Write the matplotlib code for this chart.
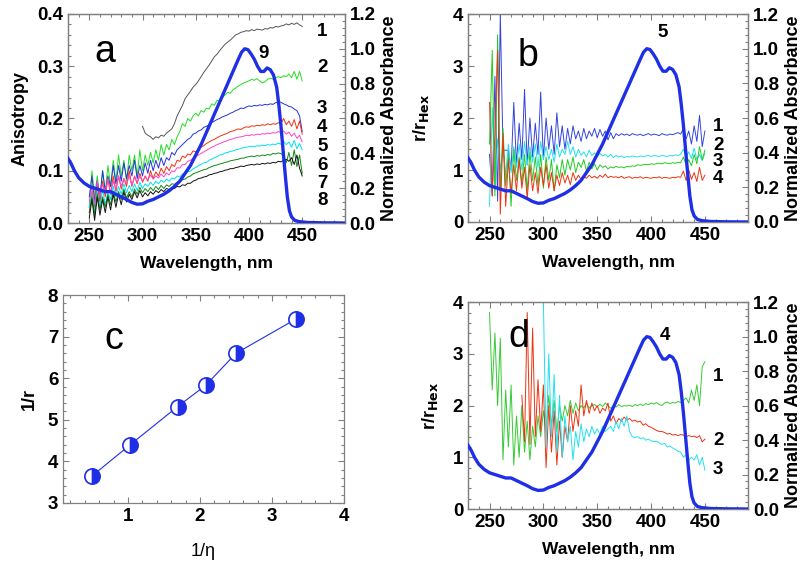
import numpy as np
import matplotlib
matplotlib.use('Agg')
import matplotlib.pyplot as plt
from matplotlib.ticker import MultipleLocator

plt.rcParams['font.family'] = ['Liberation Sans', 'DejaVu Sans']
plt.rcParams['font.weight'] = 'bold'
plt.rcParams['axes.labelweight'] = 'bold'

# normalized absorbance (shared by panels a, b, d)
abs_wl = [230, 233, 236, 240, 245, 250, 255, 260, 265, 270, 275, 280, 285, 290, 295,
          300, 305, 310, 315, 320, 325, 330, 335, 340, 345, 350, 355, 360, 365, 370,
          375, 380, 385, 390, 393, 396, 399, 402, 405, 408, 411, 414, 417, 420, 423,
          426, 428, 430, 432, 434, 436, 438, 440, 443, 447, 455, 470, 490]
abs_val = [0.37, 0.34, 0.30, 0.26, 0.23, 0.21, 0.20, 0.19, 0.18, 0.18, 0.165, 0.15, 0.135, 0.118, 0.108,
           0.11, 0.125, 0.135, 0.15, 0.165, 0.185, 0.21, 0.24, 0.285, 0.33, 0.39, 0.45, 0.52, 0.59, 0.66,
           0.73, 0.80, 0.87, 0.94, 0.98, 1.0, 0.995, 0.97, 0.94, 0.90, 0.87, 0.87, 0.89, 0.88, 0.85,
           0.78, 0.68, 0.56, 0.42, 0.28, 0.15, 0.07, 0.035, 0.015, 0.008, 0.003, 0.001, 0.0]

# panel a: anisotropy, curves 1-8 (curve 1 from 300 nm, others 250-450 nm, 2.5 nm step)
aniso_1 = [0.185, 0.172, 0.168, 0.165, 0.16, 0.165, 0.163, 0.168, 0.166, 0.172,
           0.176, 0.18, 0.19, 0.205, 0.215, 0.225, 0.238, 0.245, 0.252, 0.26,
           0.265, 0.272, 0.28, 0.288, 0.295, 0.302, 0.31, 0.318, 0.323, 0.33,
           0.336, 0.342, 0.346, 0.35, 0.355, 0.36, 0.362, 0.365, 0.366, 0.368,
           0.367, 0.37, 0.368, 0.371, 0.37, 0.369, 0.372, 0.371, 0.374, 0.373,
           0.376, 0.375, 0.377, 0.378, 0.381, 0.379, 0.382, 0.38, 0.383, 0.379,
           0.376]
aniso_2 = [0.03, 0.10, 0.05, 0.09, 0.04, 0.10, 0.06, 0.11, 0.07, 0.12,
           0.08, 0.13, 0.09, 0.12, 0.08, 0.13, 0.10, 0.13, 0.09, 0.14,
           0.10, 0.13, 0.11, 0.135, 0.115, 0.14, 0.12, 0.15, 0.13, 0.15,
           0.14, 0.16, 0.15, 0.165, 0.175, 0.19, 0.185, 0.20, 0.195, 0.205,
           0.21, 0.205, 0.215, 0.212, 0.22, 0.218, 0.228, 0.225, 0.235, 0.232,
           0.24, 0.245, 0.25, 0.248, 0.255, 0.258, 0.262, 0.265, 0.268, 0.27,
           0.272, 0.275, 0.273, 0.276, 0.272, 0.268, 0.27, 0.275, 0.277, 0.275,
           0.278, 0.28, 0.278, 0.282, 0.28, 0.285, 0.278, 0.29, 0.275, 0.29,
           0.272]
aniso_3 = [0.05, 0.09, 0.04, 0.08, 0.05, 0.10, 0.06, 0.09, 0.07, 0.11,
           0.075, 0.11, 0.08, 0.115, 0.085, 0.11, 0.09, 0.12, 0.085, 0.11,
           0.09, 0.115, 0.095, 0.12, 0.10, 0.12, 0.105, 0.125, 0.11, 0.125,
           0.12, 0.135, 0.13, 0.14, 0.145, 0.15, 0.155, 0.16, 0.163, 0.17,
           0.172, 0.176, 0.178, 0.183, 0.185, 0.188, 0.192, 0.195, 0.198, 0.20,
           0.203, 0.205, 0.207, 0.21, 0.212, 0.215, 0.217, 0.22, 0.219, 0.222,
           0.224, 0.223, 0.225, 0.224, 0.226, 0.225, 0.227, 0.226, 0.228, 0.227,
           0.23, 0.232, 0.231, 0.228, 0.226, 0.223, 0.222, 0.218, 0.215, 0.205,
           0.175]
aniso_4 = [0.02, 0.06, 0.03, 0.07, 0.04, 0.08, 0.05, 0.085, 0.055, 0.09,
           0.06, 0.09, 0.065, 0.085, 0.07, 0.10, 0.07, 0.09, 0.075, 0.095,
           0.078, 0.09, 0.08, 0.10, 0.085, 0.098, 0.09, 0.105, 0.095, 0.108,
           0.10, 0.112, 0.108, 0.12, 0.118, 0.128, 0.125, 0.132, 0.13, 0.138,
           0.136, 0.142, 0.145, 0.148, 0.152, 0.155, 0.158, 0.16, 0.163, 0.166,
           0.168, 0.17, 0.172, 0.175, 0.176, 0.178, 0.18, 0.179, 0.182, 0.184,
           0.183, 0.186, 0.185, 0.187, 0.186, 0.188, 0.187, 0.19, 0.188, 0.19,
           0.189, 0.192, 0.19, 0.20, 0.188, 0.195, 0.185, 0.198, 0.18, 0.195,
           0.17]
aniso_5 = [0.04, 0.07, 0.035, 0.08, 0.05, 0.075, 0.06, 0.085, 0.055, 0.08,
           0.065, 0.09, 0.07, 0.085, 0.075, 0.09, 0.072, 0.088, 0.078, 0.09,
           0.08, 0.088, 0.082, 0.092, 0.084, 0.09, 0.086, 0.094, 0.088, 0.096,
           0.092, 0.10, 0.098, 0.106, 0.105, 0.112, 0.112, 0.118, 0.12, 0.124,
           0.126, 0.13, 0.133, 0.136, 0.139, 0.142, 0.145, 0.147, 0.15, 0.152,
           0.154, 0.156, 0.158, 0.16, 0.161, 0.163, 0.164, 0.165, 0.166, 0.168,
           0.167, 0.169, 0.168, 0.17, 0.169, 0.171, 0.17, 0.172, 0.171, 0.173,
           0.172, 0.175, 0.173, 0.176, 0.17, 0.174, 0.166, 0.172, 0.162, 0.168,
           0.155]
aniso_6 = [0.03, 0.055, 0.02, 0.06, 0.03, 0.065, 0.035, 0.06, 0.045, 0.07,
           0.05, 0.07, 0.055, 0.075, 0.058, 0.072, 0.06, 0.075, 0.062, 0.078,
           0.066, 0.075, 0.07, 0.078, 0.072, 0.08, 0.075, 0.082, 0.078, 0.084,
           0.08, 0.086, 0.084, 0.09, 0.088, 0.094, 0.093, 0.098, 0.099, 0.104,
           0.106, 0.11, 0.112, 0.115, 0.116, 0.12, 0.122, 0.125, 0.127, 0.13,
           0.131, 0.134, 0.135, 0.137, 0.138, 0.14, 0.141, 0.143, 0.144, 0.145,
           0.146, 0.147, 0.146, 0.148, 0.147, 0.149, 0.148, 0.15, 0.149, 0.151,
           0.15, 0.153, 0.151, 0.156, 0.15, 0.155, 0.145, 0.158, 0.142, 0.152,
           0.14]
aniso_7 = [0.02, 0.05, 0.015, 0.055, 0.025, 0.05, 0.03, 0.055, 0.035, 0.06,
           0.04, 0.06, 0.045, 0.065, 0.048, 0.06, 0.05, 0.065, 0.055, 0.068,
           0.058, 0.066, 0.06, 0.068, 0.062, 0.07, 0.064, 0.072, 0.066, 0.073,
           0.07, 0.075, 0.074, 0.078, 0.078, 0.083, 0.084, 0.088, 0.09, 0.094,
           0.096, 0.098, 0.10, 0.102, 0.103, 0.106, 0.108, 0.11, 0.111, 0.113,
           0.114, 0.116, 0.117, 0.119, 0.12, 0.121, 0.122, 0.124, 0.124, 0.126,
           0.127, 0.128, 0.127, 0.129, 0.128, 0.13, 0.129, 0.131, 0.13, 0.133,
           0.132, 0.134, 0.133, 0.128, 0.115, 0.135, 0.11, 0.14, 0.108, 0.13,
           0.095]
aniso_8 = [0.01, 0.045, 0.005, 0.05, 0.015, 0.045, 0.02, 0.05, 0.025, 0.055,
           0.03, 0.055, 0.035, 0.06, 0.04, 0.055, 0.045, 0.06, 0.048, 0.062,
           0.05, 0.058, 0.052, 0.06, 0.055, 0.062, 0.058, 0.064, 0.06, 0.066,
           0.064, 0.068, 0.066, 0.07, 0.069, 0.073, 0.072, 0.076, 0.076, 0.08,
           0.082, 0.085, 0.086, 0.088, 0.089, 0.092, 0.093, 0.095, 0.096, 0.098,
           0.099, 0.101, 0.102, 0.104, 0.104, 0.106, 0.107, 0.109, 0.108, 0.11,
           0.111, 0.112, 0.111, 0.113, 0.112, 0.114, 0.113, 0.115, 0.114, 0.116,
           0.115, 0.118, 0.117, 0.12, 0.122, 0.118, 0.125, 0.112, 0.13, 0.105,
           0.09]

# panel b: r/rHex, curves 1-4 (250-450 nm, 2.5 nm step)
b_1 = [1.3, 0.5, 2.8, 0.4, 4.0, 1.38, 1.38, 1.38, 1.0, 2.3,
       1.1, 1.9, 1.2, 2.55, 1.1, 2.0, 1.25, 1.9, 1.3, 2.5,
       1.2, 2.0, 1.4, 1.85, 1.3, 2.1, 1.45, 1.85, 1.4, 1.8,
       1.5, 1.85, 1.6, 1.75, 1.55, 1.8, 1.6, 1.75, 1.65, 1.8,
       1.62, 1.78, 1.65, 1.75, 1.58, 1.72, 1.6, 1.7, 1.66, 1.7,
       1.67, 1.69, 1.66, 1.7, 1.68, 1.67, 1.69, 1.66, 1.68, 1.7,
       1.67, 1.69, 1.68, 1.66, 1.7, 1.68, 1.67, 1.69, 1.68, 1.7,
       1.72, 1.69, 1.8, 1.6, 1.75, 1.5, 1.85, 1.55, 2.05, 1.45,
       1.75]
b_2 = [0.3, 2.2, 0.6, 1.6, 1.0, 1.4, 0.9, 1.5, 0.95, 1.45,
       1.05, 1.5, 1.0, 1.55, 1.1, 1.45, 1.15, 1.5, 1.05, 1.55,
       1.2, 1.45, 1.2, 1.4, 1.15, 1.5, 1.25, 1.4, 1.3, 1.55,
       1.3, 1.45, 1.25, 1.4, 1.28, 1.35, 1.25, 1.38, 1.28, 1.33,
       1.26, 1.32, 1.27, 1.3, 1.25, 1.3, 1.24, 1.28, 1.25, 1.27,
       1.24, 1.26, 1.25, 1.27, 1.26, 1.25, 1.27, 1.26, 1.27, 1.28,
       1.26, 1.28, 1.27, 1.26, 1.28, 1.27, 1.26, 1.28, 1.27, 1.29,
       1.28, 1.3, 1.4, 1.25, 1.35, 1.22, 1.42, 1.2, 1.3, 1.18,
       1.32]
b_3 = [1.5, 3.3, 0.5, 3.6, 0.6, 1.8, 0.7, 1.3, 0.3, 1.4,
       0.8, 1.25, 0.75, 1.3, 0.6, 1.35, 0.8, 1.25, 0.7, 1.3,
       0.65, 1.25, 0.8, 1.2, 0.6, 1.1, 0.85, 1.2, 0.9, 1.2,
       1.0, 1.25, 0.95, 1.15, 1.05, 1.2, 0.98, 1.15, 1.02, 1.12,
       1.0, 1.1, 1.05, 1.08, 1.02, 1.06, 1.04, 1.07, 1.05, 1.06,
       1.04, 1.07, 1.06, 1.08, 1.07, 1.1, 1.09, 1.1, 1.11, 1.1,
       1.12, 1.11, 1.12, 1.13, 1.12, 1.14, 1.13, 1.12, 1.14, 1.13,
       1.15, 1.14, 1.25, 1.1, 1.2, 1.08, 1.3, 1.12, 1.45, 1.2,
       1.38]
b_4 = [2.3, 0.5, 1.7, 3.3, 0.15, 1.7, 0.3, 1.2, 0.55, 1.1,
       0.6, 1.2, 0.65, 1.05, 0.45, 1.1, 0.6, 0.95, 0.55, 1.05,
       0.7, 1.1, 0.65, 0.95, 0.6, 0.9, 0.7, 0.95, 0.75, 0.9,
       0.72, 0.95, 0.8, 0.9, 0.82, 0.88, 0.84, 0.9, 0.85, 0.88,
       0.84, 0.9, 0.86, 0.92, 0.85, 0.88, 0.86, 0.87, 0.85, 0.88,
       0.84, 0.86, 0.87, 0.84, 0.86, 0.85, 0.87, 0.84, 0.86, 0.85,
       0.84, 0.86, 0.85, 0.87, 0.84, 0.86, 0.85, 0.84, 0.86, 0.85,
       0.87, 0.86, 0.98, 0.8, 1.0, 0.82, 0.95, 0.78, 1.05, 0.8,
       0.9]

# panel c: 1/r vs 1/eta
inv_eta = [0.5, 1.03, 1.69, 2.08, 2.5, 3.33]
inv_r = [3.65, 4.4, 5.32, 5.83, 6.6, 7.42]

# panel d: r/rHex, curves 1 (250-450), 2 (280-450), 3 (300-450)
d_1 = [3.8, 2.3, 3.4, 2.0, 3.3, 0.95, 2.3, 1.2, 2.4, 0.85,
       1.8, 1.0, 2.0, 1.1, 1.7, 0.95, 1.6, 1.2, 1.8, 1.4,
       1.9, 1.5, 2.2, 1.6, 2.1, 1.5, 2.0, 1.7, 2.0, 1.8,
       2.1, 1.85, 2.05, 1.9, 2.0, 1.95, 2.05, 1.95, 2.0, 2.02,
       1.97, 2.03, 1.98, 2.05, 2.0, 1.95, 2.0, 1.97, 2.02, 1.98,
       2.0, 1.99, 2.01, 1.98, 2.02, 2.0, 2.03, 2.0, 2.04, 2.02,
       2.05, 2.03, 2.06, 2.02, 2.0, 2.05, 2.07, 2.04, 2.06, 2.05,
       2.08, 2.06, 2.1, 2.15, 2.05, 2.3, 2.1, 2.4, 2.0, 2.75,
       2.85]
d_2 = [2.2, 1.3, 3.8, 1.25, 3.5, 1.4, 2.5, 1.5, 2.4, 0.8,
       2.0, 1.1, 1.9, 0.85, 1.7, 1.0, 1.6, 1.3, 2.0, 1.5,
       1.9, 1.6, 2.4, 1.8, 2.1, 1.85, 2.05, 1.9, 2.0, 1.85,
       1.95, 1.9, 2.05, 1.7, 1.8, 1.65, 1.75, 1.7, 1.78, 1.72,
       1.75, 1.7, 1.72, 1.68, 1.7, 1.62, 1.65, 1.6, 1.58, 1.55,
       1.52, 1.5, 1.5, 1.48, 1.45, 1.46, 1.43, 1.44, 1.42, 1.44,
       1.43, 1.4, 1.42, 1.4, 1.41, 1.38, 1.42, 1.3,
       1.35]
d_3 = [4.0, 1.2, 3.0, 1.4, 2.6, 1.1, 2.2, 1.0, 1.8, 1.3,
       1.6, 0.95, 1.5, 1.2, 1.65, 1.3, 1.55, 1.4, 1.6, 1.45,
       1.55, 1.45, 1.6, 1.5, 1.55, 1.6, 1.5, 1.7, 1.55, 1.75,
       1.6, 1.8, 1.5, 1.4, 1.38, 1.4, 1.36, 1.38, 1.33, 1.35,
       1.32, 1.3, 1.31, 1.28, 1.25, 1.27, 1.2, 1.22, 1.18, 1.15,
       1.12, 1.1, 1.0, 1.05, 0.95, 1.0, 0.95, 1.05, 0.85, 1.0,
       0.75]

ABS_BLUE = '#1f2fe6'
SPINE = '#808080'
TICK_FS = 13.5


def wl(start, vals):
    return np.linspace(start, 450, len(vals))


def spectral_axes(ax, ymax, ymajor, yminor, ylabel, ylabelpad):
    ax.set_xlim(230, 490)
    ax.set_ylim(0, ymax)
    ax.xaxis.set_major_locator(MultipleLocator(50))
    ax.xaxis.set_minor_locator(MultipleLocator(10))
    ax.yaxis.set_major_locator(MultipleLocator(ymajor))
    ax.yaxis.set_minor_locator(MultipleLocator(yminor))
    ax.tick_params(which='both', direction='in', top=True, right=False,
                   labelsize=TICK_FS, color=SPINE, width=0.8)
    ax.tick_params(which='major', length=4)
    ax.tick_params(which='minor', length=2)
    ax.set_xlabel('Wavelength, nm', fontsize=12.5, labelpad=8)
    ax.set_ylabel(ylabel, fontsize=13, labelpad=ylabelpad)
    for s in ax.spines.values():
        s.set_color(SPINE)
        s.set_linewidth(0.9)
    tw = ax.twinx()
    tw.set_ylim(0, 1.2)
    tw.yaxis.set_major_locator(MultipleLocator(0.2))
    tw.yaxis.set_minor_locator(MultipleLocator(0.04))
    tw.yaxis.set_major_formatter(matplotlib.ticker.FormatStrFormatter('%.1f'))
    tw.tick_params(which='both', direction='in', labelsize=TICK_FS, color=SPINE, width=0.8)
    tw.tick_params(which='major', length=4)
    tw.tick_params(which='minor', length=2)
    tw.set_ylabel('Normalized Absorbance', fontsize=13, labelpad=4)
    for s in tw.spines.values():
        s.set_color(SPINE)
        s.set_linewidth(0.9)
    tw.plot(abs_wl, abs_val, color=ABS_BLUE, lw=2.4, zorder=3)
    return tw


fig = plt.figure(figsize=(8, 5.62), dpi=100)

# ---- panel a
ax_a = fig.add_axes([0.085, 0.6032, 0.346, 0.372])
spectral_axes(ax_a, 0.4, 0.1, 0.02, 'Anisotropy', 6)
ax_a.yaxis.set_major_formatter(matplotlib.ticker.FormatStrFormatter('%.1f'))
a_colors = ['#555555', '#22dd22', '#2233dd', '#ee3311', '#ff44cc', '#00e0f0', '#118811', '#111111']
a_series = [aniso_1, aniso_2, aniso_3, aniso_4, aniso_5, aniso_6, aniso_7, aniso_8]
for i, (vals, c) in enumerate(zip(a_series, a_colors)):
    start = 300 if i == 0 else 250
    ax_a.plot(wl(start, vals), vals, color=c, lw=0.7)
ax_a.text(0.134, 0.82, 'a', transform=ax_a.transAxes, fontsize=27, fontweight='normal',
          ha='center', va='center')
a_lab_y = [0.914, 0.742, 0.55, 0.455, 0.364, 0.277, 0.191, 0.11]
for i, y in enumerate(a_lab_y):
    ax_a.text(0.90, y, str(i + 1), transform=ax_a.transAxes, fontsize=13.5,
              ha='left', va='center', zorder=5)
ax_a.text(0.686, 0.81, '9', transform=ax_a.transAxes, fontsize=13.5, ha='left', va='center')

# ---- panel b
ax_b = fig.add_axes([0.585, 0.605, 0.35, 0.370])
spectral_axes(ax_b, 4, 1, 0.2, r'r/r$_{\mathbf{Hex}}$', 16)
b_colors = ['#3344dd', '#22e0f0', '#22cc22', '#ee3311']
for vals, c in zip([b_1, b_2, b_3, b_4], b_colors):
    ax_b.plot(wl(250, vals), vals, color=c, lw=0.7)
ax_b.text(0.214, 0.80, 'b', transform=ax_b.transAxes, fontsize=27, fontweight='normal',
          ha='center', va='center')
ax_b.text(0.696, 0.909, '5', transform=ax_b.transAxes, fontsize=13.5, ha='center', va='center')
for i, y in enumerate([0.457, 0.37, 0.29, 0.21]):
    ax_b.text(0.875, y, str(i + 1), transform=ax_b.transAxes, fontsize=13.5,
              ha='left', va='center')

# ---- panel c
ax_c = fig.add_axes([0.079, 0.105, 0.351, 0.370])
ax_c.plot(inv_eta, inv_r, color=ABS_BLUE, lw=0.8, marker='o', markersize=11,
          fillstyle='right', markerfacecolor=ABS_BLUE, markerfacecoloralt='white',
          markeredgecolor=ABS_BLUE, markeredgewidth=1.2)
ax_c.set_xlim(0.1, 4)
ax_c.set_ylim(3, 8)
ax_c.xaxis.set_major_locator(MultipleLocator(1))
ax_c.xaxis.set_minor_locator(MultipleLocator(0.2))
ax_c.yaxis.set_major_locator(MultipleLocator(1))
ax_c.yaxis.set_minor_locator(MultipleLocator(0.2))
ax_c.tick_params(which='both', direction='in', top=True, right=True,
                 labelsize=TICK_FS, color=SPINE, width=0.8)
ax_c.tick_params(which='major', length=4)
ax_c.tick_params(which='minor', length=2)
for s in ax_c.spines.values():
    s.set_color(SPINE)
    s.set_linewidth(0.9)
ax_c.set_xlabel('1/η', fontsize=13, fontweight='normal', labelpad=13)
ax_c.set_ylabel('1/r', fontsize=13, labelpad=7)
ax_c.text(0.18, 0.79, 'c', transform=ax_c.transAxes, fontsize=27, fontweight='normal',
          ha='center', va='center')

# ---- panel d
ax_d = fig.add_axes([0.585, 0.0943, 0.35, 0.368])
spectral_axes(ax_d, 4, 1, 0.2, r'r/r$_{\mathbf{Hex}}$', 9)
ax_d.plot(wl(250, d_1), d_1, color='#33cc33', lw=0.7)
ax_d.plot(wl(280, d_2), d_2, color='#ee3311', lw=0.7)
ax_d.plot(wl(300, d_3), d_3, color='#22e0f0', lw=0.7)
ax_d.text(0.18, 0.83, 'd', transform=ax_d.transAxes, fontsize=27, fontweight='normal',
          ha='center', va='center')
ax_d.text(0.704, 0.84, '4', transform=ax_d.transAxes, fontsize=13.5, ha='center', va='center')
for i, y in enumerate([0.64, 0.33, 0.19]):
    ax_d.text(0.875, y, str(i + 1), transform=ax_d.transAxes, fontsize=13.5,
              ha='left', va='center')

fig.savefig('out.png', dpi=100)
